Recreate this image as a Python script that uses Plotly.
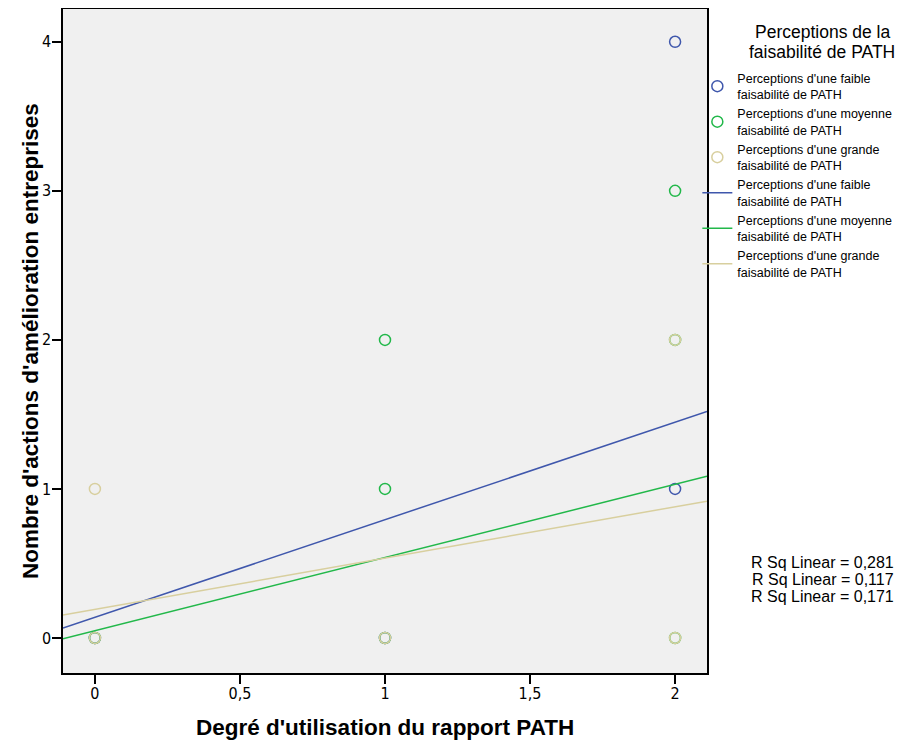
import plotly.graph_objects as go

# Data
groups = ["Perceptions d'une faible<br>faisabilité de PATH",
          "Perceptions d'une moyenne<br>faisabilité de PATH",
          "Perceptions d'une grande<br>faisabilité de PATH"]
colors = ["#3f57ac", "#22b84a", "#d8cf9e"]
legend_title = ["Perceptions de la", "faisabilité de PATH"]

blue_x = [0, 1, 2, 2]
blue_y = [0, 0, 1, 4]
green_x = [0, 1, 1, 1, 2, 2, 2]
green_y = [0, 0, 1, 2, 0, 2, 3]
tan_x = [0, 0, 1, 2, 2]
tan_y = [0, 1, 0, 0, 2]

fit_x = [-0.11, 2.11]
blue_fit = [0.067, 1.52]
green_fit = [-0.005, 1.085]
tan_fit = [0.154, 0.918]

r2_labels = ["R Sq Linear = 0,281", "R Sq Linear = 0,117", "R Sq Linear = 0,171"]

x_ticks = [0, 0.5, 1, 1.5, 2]
x_tick_text = ["0", "0,5", "1", "1,5", "2"]
y_ticks = [0, 1, 2, 3, 4]

fig = go.Figure()
pts = [(blue_x, blue_y), (green_x, green_y), (tan_x, tan_y)]
for (xs, ys), name, c in zip(pts, groups, colors):
    fig.add_trace(go.Scatter(x=xs, y=ys, mode="markers", name=name,
                             marker=dict(symbol="circle-open", size=11, color=c,
                                         line=dict(width=1.5, color=c))))
for ys, name, c in zip([blue_fit, green_fit, tan_fit], groups, colors):
    fig.add_trace(go.Scatter(x=fit_x, y=ys, mode="lines", name=name,
                             line=dict(color=c, width=1.5)))

for i, lab in enumerate(r2_labels):
    fig.add_annotation(text=lab, xref="paper", yref="paper",
                       x=1.18, y=0.167 - i * 0.0256, xanchor="center", yanchor="middle",
                       showarrow=False, font=dict(size=16, color="black"))

for i, lab in enumerate(legend_title):
    fig.add_annotation(text=lab, xref="paper", yref="paper",
                       x=1.1786, y=0.9654 - i * 0.0302, xanchor="center", yanchor="middle",
                       showarrow=False, font=dict(size=17.5, color="black"))

fig.add_annotation(text="<b>Nombre d'actions d'amélioration entreprises</b>",
                   xref="paper", yref="paper", x=-0.0512, y=0.5, textangle=-90,
                   xanchor="center", yanchor="middle", showarrow=False,
                   font=dict(size=22.5, color="black"))
fig.add_annotation(text="<b>Degré d'utilisation du rapport PATH</b>",
                   xref="paper", yref="paper", x=0.5, y=-0.0828,
                   xanchor="center", yanchor="middle", showarrow=False,
                   font=dict(size=22.5, color="black"))

tick_font = dict(family="DejaVu Sans Condensed, Liberation Sans", size=16)

fig.update_layout(
    width=924, height=746,
    margin=dict(l=55, r=225, t=1, b=81, autoexpand=False),
    plot_bgcolor="#f0f0f0", paper_bgcolor="white",
    font=dict(family="Liberation Sans, Arial", color="black"),
    legend=dict(x=0.985, y=0.918, xanchor="left", yanchor="top",
                bgcolor="rgba(0,0,0,0)",
                font=dict(size=12.5), tracegroupgap=0, itemwidth=30),
    showlegend=True,
)
fig.update_xaxes(range=[-0.11, 2.11], tickvals=x_ticks, ticktext=x_tick_text,
                 ticks="outside", ticklen=9, tickwidth=1.5, tickcolor="black",
                 showline=True, linecolor="black", linewidth=1.5, mirror=True,
                 showgrid=False, zeroline=False, automargin=False,
                 ticklabelstandoff=-4, tickfont=tick_font)
fig.update_yaxes(range=[-0.235, 4.22], tickvals=y_ticks,
                 ticks="outside", ticklen=9, tickwidth=1.5, tickcolor="black",
                 showline=True, linecolor="black", linewidth=1.5, mirror=True,
                 showgrid=False, zeroline=False, automargin=False,
                 ticklabelstandoff=-2, tickfont=tick_font)

fig.write_html("out.html")
